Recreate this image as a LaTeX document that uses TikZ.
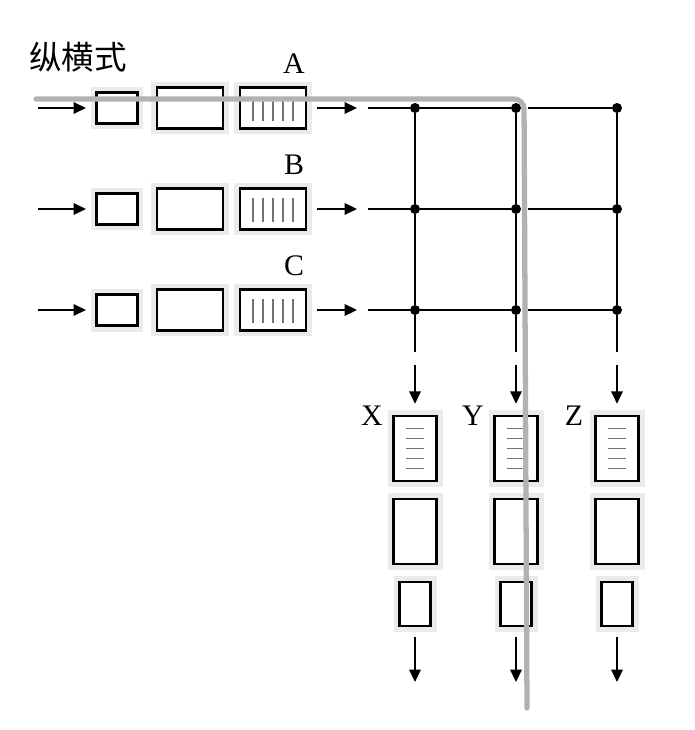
\documentclass[tikz,border=0pt]{standalone}
\usepackage{fontspec}
\setmainfont{Liberation Serif}
\newfontfamily\cjk{Noto Sans CJK SC}
\usetikzlibrary{arrows.meta}

\begin{document}
\begin{tikzpicture}[x=0.02cm, y=-0.02cm,
    box/.style={draw, fill=white, line width=1.3pt, inner sep=0pt, outer sep=0pt,
        preaction={draw=black!8, line width=0.24cm}},
    arr/.style={-{Triangle[length=7pt,width=6.5pt]}, line width=1pt},
    grid/.style={line width=1.5pt},
    dot/.style={circle, fill=black, inner sep=0pt, outer sep=0pt, minimum size=0.2cm},
    hatch/.style={black!55, line width=1pt},
    hl/.style={black!30, line width=3pt, line cap=round, rounded corners=0.2cm},
    lbl/.style={font=\fontsize{17}{20}\selectfont, inner sep=0pt}]

    \useasboundingbox (0,0) rectangle (694,730);

    %title
    \node[font=\cjk\fontsize{18.5}{22}\selectfont, inner sep=0pt] (title) at (78,57) {纵横式};

    %rows A, B, C
    \foreach \r/\y/\t in {a/108/A, b/209/B, c/310/C}{
        \node[box, minimum width=0.82cm, minimum height=0.62cm] (\r1) at (117,\y) {};
        \node[box, minimum width=1.32cm, minimum height=0.82cm] (\r2) at (190,\y) {};
        \node[box, minimum width=1.32cm, minimum height=0.82cm] (\r3) at (273,\y) {};
        \node[lbl] (\r t) at (294,\y-44) {\t};
        \foreach \i in {-20,-10,...,20}
            \draw[hatch] (273+\i,\y-11) -- (273+\i,\y+13);

        \coordinate (in\r) at (38,\y);
        \coordinate (out\r) at (357,\y);
        \draw[arr, shorten >=6pt] (in\r) -- (\r1);
        \draw[arr, shorten <=6pt] (\r3) -- (out\r);

        %grid row
        \coordinate (l\r) at (368,\y);
        \node[dot] (g\r1) at (415,\y) {};
        \node[dot] (g\r2) at (516,\y) {};
        \node[dot] (g\r3) at (617,\y) {};
        \draw[grid] (l\r) -- (g\r1) -- (g\r2);
        \draw[grid, shorten <=4pt] (g\r2) -- (g\r3);
    };

    %columns X, Y, Z
    \foreach \c/\x/\t [count=\k] in {x/415/X, y/516/Y, z/617/Z}{
        \coordinate (e\k) at (\x,352);
        \draw[grid] (ga\k) -- (gb\k) -- (gc\k) -- (e\k);

        \node[box, minimum width=0.86cm, minimum height=1.3cm] (\c1) at (\x,448.5) {};
        \node[box, minimum width=0.86cm, minimum height=1.3cm] (\c2) at (\x,531.5) {};
        \node[box, minimum width=0.62cm, minimum height=0.88cm] (\c3) at (\x,604) {};
        \node[lbl] (\c t) at (\x-43,416) {\t};
        \foreach \j in {-20,-10,...,20}
            \draw[hatch] (\x-9,448.5+\j) -- (\x+9,448.5+\j);

        \coordinate (d\k) at (\x,365);
        \coordinate (f\k) at (\x,682);
        \draw[arr, shorten >=7pt] (d\k) -- (\c1);
        \draw[arr, shorten <=6pt] (\c3) -- (f\k);
    };

    %highlighted path
    \coordinate (h0) at (36,99);
    \coordinate (h1) at (524,99);
    \coordinate (h2) at (527,708);
    \draw[hl] (h0) -- (h1) -- (h2);

\end{tikzpicture}
\end{document}
